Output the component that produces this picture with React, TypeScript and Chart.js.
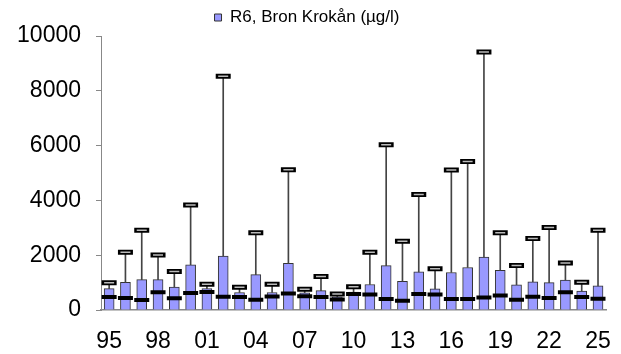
import React, { useEffect, useRef } from "react";
import { Chart, registerables } from "chart.js";

Chart.register(...registerables);

const years = [
  1995, 1996, 1997, 1998, 1999, 2000, 2001, 2002, 2003, 2004, 2005, 2006, 2007, 2008, 2009, 2010,
  2011, 2012, 2013, 2014, 2015, 2016, 2017, 2018, 2019, 2020, 2021, 2022, 2023, 2024, 2025,
];
const meanValues = [
  780, 1010, 1110, 1110, 840, 1650, 780, 1970, 640, 1290, 640, 1700, 630, 710, 480, 650,
  930, 1620, 1050, 1390, 770, 1370, 1550, 1930, 1450, 920, 1030, 1000, 1090, 690, 880,
];
const medianValues = [
  470, 440, 365, 650, 425, 620, 660, 480, 470, 375, 495, 600, 505, 470, 385, 580,
  570, 400, 340, 580, 570, 400, 400, 460, 530, 375, 480, 435, 650, 470, 410,
];
const maxValues = [
  990, 2110, 2910, 2010, 1405, 3830, 940, 8530, 830, 2820, 940, 5120, 760, 1220, 580, 845,
  2110, 6030, 2510, 4215, 1510, 5110, 5420, 9420, 2815, 1620, 2610, 3010, 1715, 1015, 2910,
];
const seriesLabel = "R6, Bron Krokån (µg/l)";
const yTicks = [0, 2000, 4000, 6000, 8000, 10000];

export default function App() {
  const ref = useRef<HTMLCanvasElement | null>(null);

  useEffect(() => {
    document.body.style.margin = "0";
    const canvas = ref.current;
    if (!canvas) return;
    const labels = years.map((y) => String(y % 100).padStart(2, "0"));
    const font = "'Liberation Sans', Arial, sans-serif";
    const chart = new Chart(canvas, {
      type: "bar",
      data: {
        labels,
        datasets: [
          {
            type: "bar",
            label: seriesLabel,
            data: meanValues,
            backgroundColor: "#9999FF",
            borderColor: "#333333",
            borderWidth: 1,
            barThickness: 10,
            grouped: false,
            order: 5,
          } as any,
          {
            type: "bar",
            label: "whisker",
            data: maxValues.map((m, i) => [meanValues[i], m]),
            backgroundColor: "#444444",
            borderWidth: 0,
            barThickness: 1,
            grouped: false,
            order: 4,
          } as any,
          {
            type: "line",
            label: "median",
            data: medianValues,
            showLine: false,
            pointStyle: "line",
            pointRadius: 7.5,
            pointBorderWidth: 4,
            pointBorderColor: "#000000",
            pointBackgroundColor: "#000000",
            order: 1,
          } as any,
          {
            type: "line",
            label: "max",
            data: maxValues,
            showLine: false,
            pointStyle: "line",
            pointRadius: 7.5,
            pointBorderWidth: 5,
            pointBorderColor: "#000000",
            order: 2,
          } as any,
          {
            type: "line",
            label: "maxInner",
            data: maxValues,
            showLine: false,
            pointStyle: "line",
            pointRadius: 5,
            pointBorderWidth: 1.5,
            pointBorderColor: "#bbbbbb",
            order: 0,
          } as any,
        ],
      },
      options: {
        animation: false,
        responsive: false,
        maintainAspectRatio: false,
        layout: { padding: { top: 4, right: 7, left: 0, bottom: 0 } },
        plugins: {
          tooltip: { enabled: false },
          legend: {
            display: true,
            position: "top",
            labels: {
              filter: (item: any) => item.datasetIndex === 0,
              boxWidth: 7,
              boxHeight: 7,
              color: "#000",
              font: { family: font, size: 17 },
              padding: 5,
            },
          },
        },
        scales: {
          x: {
            offset: true,
            grid: { display: false },
            border: { display: true, color: "#888888", width: 1.5 },
            ticks: {
              autoSkip: false,
              maxRotation: 0,
              minRotation: 0,
              color: "#000",
              padding: 10,
              font: { family: font, size: 23 },
              callback: (_v: any, i: number) => (i % 3 === 0 ? labels[i] : ""),
            },
            afterFit: (s: any) => {
              s.height = 44;
            },
          },
          y: {
            min: 0,
            max: 10000,
            afterBuildTicks: (s: any) => {
              s.ticks = yTicks.map((v) => ({ value: v }));
            },
            grid: {
              display: true,
              drawOnChartArea: false,
              drawTicks: true,
              tickLength: 5,
              color: "#888888",
            },
            border: { display: true, color: "#888888", width: 1 },
            ticks: {
              color: "#000",
              padding: 15,
              font: { family: font, size: 23 },
              callback: (v: any) => String(v),
            },
            afterFit: (s: any) => {
              s.width = 101;
            },
          },
        },
      },
    });
    return () => chart.destroy();
  }, []);

  return (
    <div style={{ width: 621, height: 354, background: "#fff" }}>
      <canvas ref={ref} width={621} height={354} style={{ display: "block" }} />
    </div>
  );
}
